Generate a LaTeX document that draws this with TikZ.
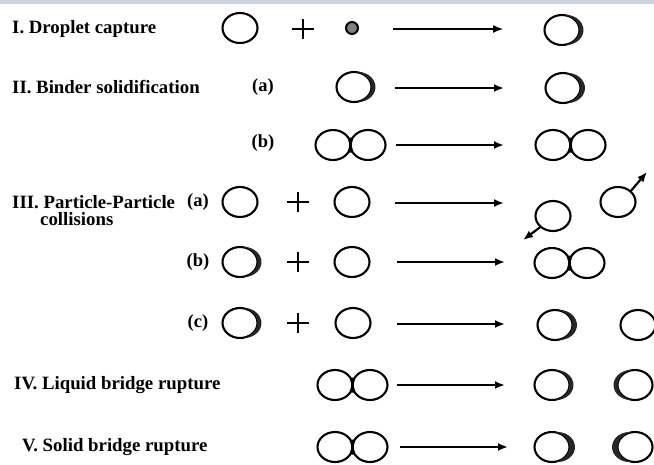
\documentclass[tikz,border=0pt]{standalone}
\usepackage{fontspec}
\setmainfont{Liberation Serif}
\usetikzlibrary{shapes.geometric,arrows.meta,calc}
\tikzset{
  lbl/.style={font=\fontsize{18.8}{21}\selectfont\bfseries, anchor=west, inner sep=0pt},
  sub/.style={font=\fontsize{18.5}{20}\selectfont\bfseries, inner sep=0pt},
  particle/.style={ellipse, draw, line width=2.1pt, minimum width=35pt, minimum height=30pt, inner sep=0pt},
  droplet/.style={circle, draw, line width=2pt, fill=black!50, minimum size=12pt, inner sep=0pt},
  plussign/.style={minimum width=22pt, minimum height=20pt, inner sep=0pt,
    path picture={\draw[line width=2pt] (path picture bounding box.west) -- (path picture bounding box.east)
      (path picture bounding box.north) -- (path picture bounding box.south);}},
  arr/.style={line width=1.8pt, -{Latex[length=10pt,width=8pt]}},
  kick/.style={line width=2.2pt, -{Latex[length=10pt,width=8pt]}},
  crescfill/.style={fill=black!85},
}
% crescent on the right side of a particle: node, shift
\newcommand\crescR[2]{%
  \pgfmathsetmacro\cta{acos(#2/35)}%
  \fill[crescfill] ($(#1.center)+(#2,0)+({17.5*cos(180-\cta)},{15*sin(180-\cta)})$)
    arc[start angle=180-\cta, end angle=-180+\cta, x radius=17.5, y radius=15]
    arc[start angle=-\cta, end angle=\cta, x radius=17.5, y radius=15] -- cycle;}
% crescent on the left side of a particle: node, shift
\newcommand\crescL[2]{%
  \pgfmathsetmacro\cta{acos(#2/35)}%
  \fill[crescfill] ($(#1.center)+(-#2,0)+({17.5*cos(\cta)},{15*sin(\cta)})$)
    arc[start angle=\cta, end angle=360-\cta, x radius=17.5, y radius=15]
    arc[start angle=180+\cta, end angle=180-\cta, x radius=17.5, y radius=15] -- cycle;}
\newcommand\neck[2]{%
  \fill[shift={($(#1)!0.5!(#2)$)}] (-2.6,-7.5) -- (2.6,-7.5) -- (1.2,0) -- (2.6,7.5) -- (-2.6,7.5) -- (-1.2,0) -- cycle;}
\begin{document}
\begin{tikzpicture}[x=1pt,y=-1pt]
\useasboundingbox (0,0) rectangle (654,464);
\fill[color={rgb,255:red,205;green,210;blue,225}] (0,0) rectangle (654,4);

% Row I
\node[lbl] (tI) at (12,29) {I. Droplet capture};
\node[particle] (pIa) at (240,28) {};
\node[plussign] (plI) at (303,29) {};
\node[droplet] (dI) at (352,28) {};
\coordinate (sI) at (393,29); \coordinate (eI) at (503,29);
\draw[arr, line width=1.3pt] (sI) -- (eI);
\node[particle] (rI) at (562,30) {};
\crescR{rI}{4}

% Row II a
\node[lbl] (tII) at (12,87) {II. Binder solidification};
\node[sub] (aII) at (263,87) {(a)};
\node[particle] (pIIa) at (354,87) {};
\crescR{pIIa}{4}
\coordinate (sIIa) at (395,88); \coordinate (eIIa) at (504,88);
\draw[arr, line width=2.6pt] (sIIa) -- (eIIa);
\node[particle] (rIIa) at (563,88) {};
\crescR{rIIa}{4.5}

% Row II b
\node[sub] (bII) at (263,143) {(b)};
\node[particle] (pIIb1) at (333,145) {};
\node[particle] (pIIb2) at (368,145) {};
\neck{pIIb1}{pIIb2}
\coordinate (sIIb) at (396,145); \coordinate (eIIb) at (504,145);
\draw[arr, line width=2.2pt] (sIIb) -- (eIIb);
\node[particle] (rIIb1) at (553,145) {};
\node[particle] (rIIb2) at (588,145) {};
\neck{rIIb1}{rIIb2}

% Row III a
\node[lbl] (tIII) at (12,202) {III. Particle-Particle};
\node[lbl] (tIIIb) at (40,219) {collisions};
\node[sub] (aIII) at (198,202) {(a)};
\node[particle] (pIIIa1) at (240,202) {};
\node[plussign] (plIIIa) at (298,202) {};
\node[particle] (pIIIa2) at (352,202) {};
\coordinate (sIIIa) at (395,203); \coordinate (eIIIa) at (504,203);
\draw[arr, line width=2.2pt] (sIIIa) -- (eIIIa);
\node[particle] (rIIIa1) at (553,216) {};
\node[particle] (rIIIa2) at (618,202) {};
\coordinate (kA) at (523,240); \coordinate (kB) at (647,172);
\draw[kick] (rIIIa1.south west) -- (kA);
\draw[kick] (rIIIa2.north east) -- (kB);

% Row III b
\node[sub] (bIII) at (198,262) {(b)};
\node[particle] (pIIIb1) at (240,262) {};
\crescR{pIIIb1}{4}
\node[plussign] (plIIIb) at (298,262) {};
\node[particle] (pIIIb2) at (352,262) {};
\coordinate (sIIIb) at (397,262); \coordinate (eIIIb) at (505,262);
\draw[arr, line width=2pt] (sIIIb) -- (eIIIb);
\node[particle] (rIIIb1) at (552,263) {};
\node[particle] (rIIIb2) at (587,263) {};
\neck{rIIIb1}{rIIIb2}

% Row III c
\node[sub] (cIII) at (198,323) {(c)};
\node[particle] (pIIIc1) at (240,323) {};
\crescR{pIIIc1}{4}
\node[plussign] (plIIIc) at (298,323) {};
\node[particle] (pIIIc2) at (353,323) {};
\coordinate (sIIIc) at (397,324); \coordinate (eIIIc) at (505,324);
\draw[arr, line width=2pt] (sIIIc) -- (eIIIc);
\node[particle] (rIIIc1) at (555,325) {};
\crescR{rIIIc1}{4.5}
\node[particle] (rIIIc2) at (638,325) {};

% Row IV
\node[lbl] (tIV) at (14,385) {IV. Liquid bridge rupture};
\node[particle] (pIV1) at (335,385) {};
\node[particle] (pIV2) at (370,385) {};
\neck{pIV1}{pIV2}
\coordinate (sIV) at (397,385); \coordinate (eIV) at (505,385);
\draw[arr, line width=2pt] (sIV) -- (eIV);
\node[particle] (rIV1) at (552,385) {};
\crescR{rIV1}{4}
\node[particle] (rIV2) at (635,385) {};
\crescL{rIV2}{4}

% Row V
\node[lbl] (tV) at (22,447) {V. Solid bridge rupture};
\node[particle] (pV1) at (335,447) {};
\node[particle] (pV2) at (370,447) {};
\neck{pV1}{pV2}
\coordinate (sV) at (400,447); \coordinate (eV) at (508,447);
\draw[arr, line width=2pt] (sV) -- (eV);
\node[particle] (rV1) at (552,447) {};
\crescR{rV1}{5.5}
\node[particle] (rV2) at (635,447) {};
\crescL{rV2}{5.5}
\end{tikzpicture}
\end{document}
